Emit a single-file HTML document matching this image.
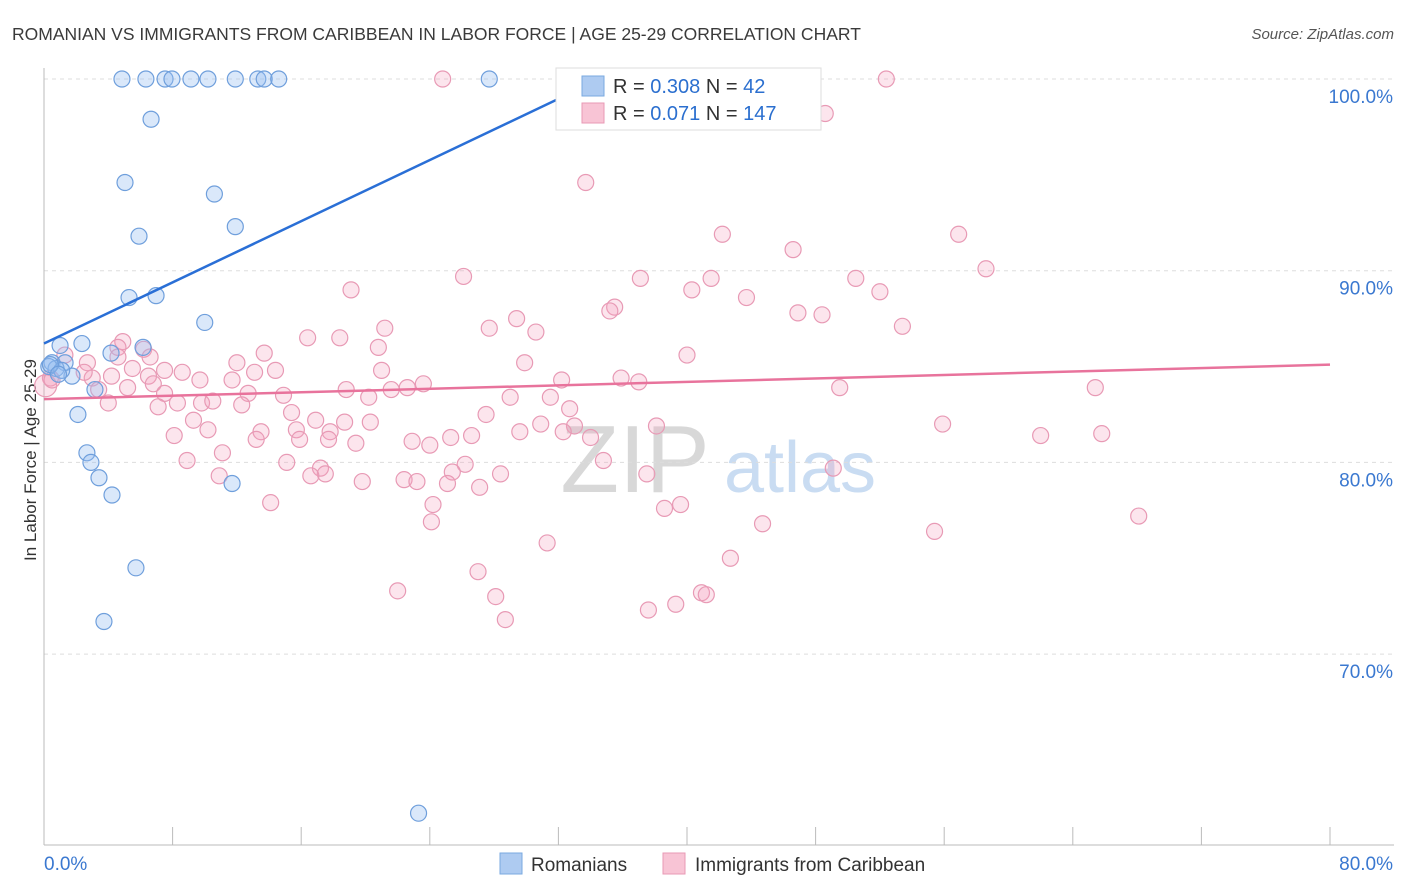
<!DOCTYPE html>
<html><head><meta charset="utf-8">
<style>
body{margin:0;background:#fff;font-family:"Liberation Sans",sans-serif;}
#wrap{position:relative;width:1406px;height:892px;overflow:hidden;}
svg text{font-family:"Liberation Sans",sans-serif;}
</style></head>
<body>
<div id="wrap">
<svg id="chart" width="1406" height="892">
<text x="12" y="40" font-size="17.5" fill="#3a3a3a">ROMANIAN VS IMMIGRANTS FROM CARIBBEAN IN LABOR FORCE | AGE 25-29 CORRELATION CHART</text>
<text x="1394" y="39" font-size="15" fill="#555" font-style="italic" text-anchor="end">Source: ZipAtlas.com</text>
<text x="36" y="460" font-size="17" fill="#333" transform="rotate(-90 36 460)" text-anchor="middle">In Labor Force | Age 25-29</text>
<g>
<text x="635" y="492" font-size="96" fill="#d8d8d8" font-family="Liberation Serif" text-anchor="middle">ZIP</text>
<text x="800" y="492" font-size="72" fill="#c9dcf2" text-anchor="middle">atlas</text>
</g>
<g id="grid"></g>
<g id="marks"></g>
<g>
<rect x="556" y="68" width="265" height="62" fill="#fff" stroke="#ddd"/>
<rect x="582" y="76" width="22" height="20" fill="#aecbf1" stroke="#7aaae0"/>
<text x="613" y="93" font-size="20" fill="#333">R = <tspan fill="#2b6fcf">0.308</tspan>   N = <tspan fill="#2b6fcf">42</tspan></text>
<rect x="582" y="103" width="22" height="20" fill="#f8c4d5" stroke="#e89ab5"/>
<text x="613" y="120" font-size="20" fill="#333">R =  <tspan fill="#2b6fcf">0.071</tspan>   N = <tspan fill="#2b6fcf">147</tspan></text>
</g>
<g>
<rect x="500" y="853" width="22" height="21" fill="#aecbf1" stroke="#7aaae0"/>
<text x="531" y="871" font-size="19" fill="#333">Romanians</text>
<rect x="663" y="853" width="22" height="21" fill="#f8c4d5" stroke="#e89ab5"/>
<text x="695" y="871" font-size="19" fill="#333">Immigrants from Caribbean</text>
</g>
</svg>
</div>
<script>
const yTicks=[100,90,80,70];
const yTickLabels=["100.0%","90.0%","80.0%","70.0%"];
const xTickLabels=["0.0%","80.0%"];
const romX=[4.85,6.34,7.53,7.96,9.14,10.2,11.9,13.3,13.7,14.6,27.7,35.6,6.66,5.04,10.6,11.9,5.91,5.29,6.97,10.0,2.36,1.0,6.16,4.17,0.5,1.31,0.75,1.74,3.17,2.11,2.67,2.92,3.42,4.23,11.7,5.72,3.73,23.3,0.3,1.1,0.4,0.9];
const romY=[100,100,100,100,100,100,100,100,100,100,100,100,97.9,94.6,94.0,92.3,91.8,88.6,88.7,87.3,86.2,86.1,86.0,85.7,85.2,85.2,84.9,84.5,83.8,82.5,80.5,80.0,79.2,78.3,78.9,74.5,71.7,61.7,85.0,84.8,85.1,84.6];
const carX=[24.8,52.4,48.6,33.7,42.2,56.9,46.6,58.6,26.1,37.1,41.5,50.5,40.3,52.0,19.1,43.7,35.5,35.2,46.9,48.4,29.4,53.4,27.7,21.2,30.6,18.4,16.4,4.9,4.6,6.2,13.7,20.8,40.0,12.0,29.9,1.3,2.7,4.6,6.6,7.5,8.6,5.5,14.4,4.2,6.5,13.1,3.0,0.4,9.7,11.7,21.0,23.6,32.2,35.9,37.0,6.8,5.2,18.8,22.6,21.6,7.5,12.7,14.9,49.5,65.4,9.8,29.0,31.5,20.2,4.0,8.3,7.1,10.5,12.3,32.7,15.4,27.5,16.9,9.3,18.7,20.3,10.2,15.7,17.8,13.5,38.1,55.9,33.0,30.9,32.3,29.6,8.1,26.6,15.9,13.2,22.9,17.7,19.4,24.0,25.3,34.0,62.0,65.8,11.1,34.8,8.9,26.2,15.1,17.2,17.5,25.4,10.9,16.6,28.4,19.8,22.4,23.2,25.1,27.1,37.5,49.1,24.2,14.1,39.6,38.6,24.1,44.7,68.1,55.4,31.3,42.7,27.0,22.0,28.1,40.9,41.2,39.3,37.6,28.7,0.1,2.5,3.4,0.5];
const carY=[100,100,98.2,94.6,91.9,91.9,91.1,90.1,89.7,89.6,89.6,89.6,89.0,88.9,89.0,88.6,88.1,87.9,87.8,87.7,87.5,87.1,87.0,87.0,86.8,86.5,86.5,86.3,86.0,85.9,85.7,86.0,85.6,85.2,85.2,85.6,85.2,85.5,85.5,84.8,84.7,84.9,84.8,84.5,84.5,84.7,84.4,84.4,84.3,84.3,84.8,84.1,84.3,84.4,84.2,84.1,83.9,83.8,83.9,83.8,83.6,83.6,83.5,83.9,83.9,83.1,83.4,83.4,83.4,83.1,83.1,82.9,83.2,83.0,82.8,82.6,82.5,82.2,82.2,82.1,82.1,81.7,81.7,81.6,81.6,81.9,82.0,81.9,82.0,81.6,81.6,81.4,81.4,81.2,81.2,81.1,81.2,81.0,80.9,81.3,81.3,81.4,81.5,80.5,80.1,80.1,79.9,80.0,79.7,79.4,79.5,79.3,79.3,79.4,79.0,79.1,79.0,78.9,78.7,79.4,79.7,77.8,77.9,77.8,77.6,76.9,76.8,77.2,76.4,75.8,75.0,74.3,73.3,73.0,73.2,73.1,72.6,72.3,71.8,84.0,84.7,83.8,84.3];
const romTrend=[86.2,100];const romTrendX=[0,34.6];
const carTrend=[83.3,85.1];const carTrendX=[0,80];

const NS="http://www.w3.org/2000/svg";
const X0=44,X1=1330;
function sx(v){return X0+(v/80)*(X1-X0);}
function sy(v){return 79+(100-v)*19.17;}
function mk(t,a,parent){const e=document.createElementNS(NS,t);for(const k in a)e.setAttribute(k,a[k]);parent.appendChild(e);return e;}
const grid=document.getElementById('grid'),marks=document.getElementById('marks');
yTicks.forEach((t,i)=>{
  const l=mk('line',{x1:X0,x2:X1+64,y1:sy(t),y2:sy(t),stroke:'#ddd','stroke-dasharray':'4,4'},grid);
  
  
  const tx=mk('text',{x:1393,y:sy(t)+24,'font-size':19,fill:'#3a78d0','text-anchor':'end'},grid);
  tx.textContent=yTickLabels[i];
  
  
});
const ya=mk('line',{x1:X0,x2:X0,y1:68,y2:845,stroke:'#bbb'},grid);


const xa=mk('line',{x1:X0,x2:X1+64,y1:845,y2:845,stroke:'#bbb'},grid);


for(let i=0;i<=10;i++){
  const t=mk('line',{x1:sx(i*8),x2:sx(i*8),y1:827,y2:845,stroke:'#bbb'},grid);
  
  
}
[[0,'start',X0],[1,'end',1393]].forEach(([i,a,x])=>{
  const t=mk('text',{x:x,y:870,'font-size':19,fill:'#3a78d0','text-anchor':a},grid);
  t.textContent=xTickLabels[i];
  
  
});
carX.forEach((v,i)=>{
  const c=mk('circle',{cx:sx(v),cy:sy(carY[i]),r:i===carX.length-4?11:8,fill:'rgba(244,160,190,0.28)',stroke:'#e89ab5','stroke-width':1.2},marks);
  
  
});
romX.forEach((v,i)=>{
  const c=mk('circle',{cx:sx(v),cy:sy(romY[i]),r:8,fill:'rgba(150,190,240,0.35)',stroke:'#6f9fdc','stroke-width':1.2},marks);
  
  
});
const l1=mk('line',{x1:sx(romTrendX[0]),y1:sy(romTrend[0]),x2:sx(romTrendX[1]),y2:sy(romTrend[1]),stroke:'#2a6fd6','stroke-width':2.5},marks);


const l2=mk('line',{x1:sx(carTrendX[0]),y1:sy(carTrend[0]),x2:sx(carTrendX[1]),y2:sy(carTrend[1]),stroke:'#e8739c','stroke-width':2.5},marks);


</script>
</body></html>
